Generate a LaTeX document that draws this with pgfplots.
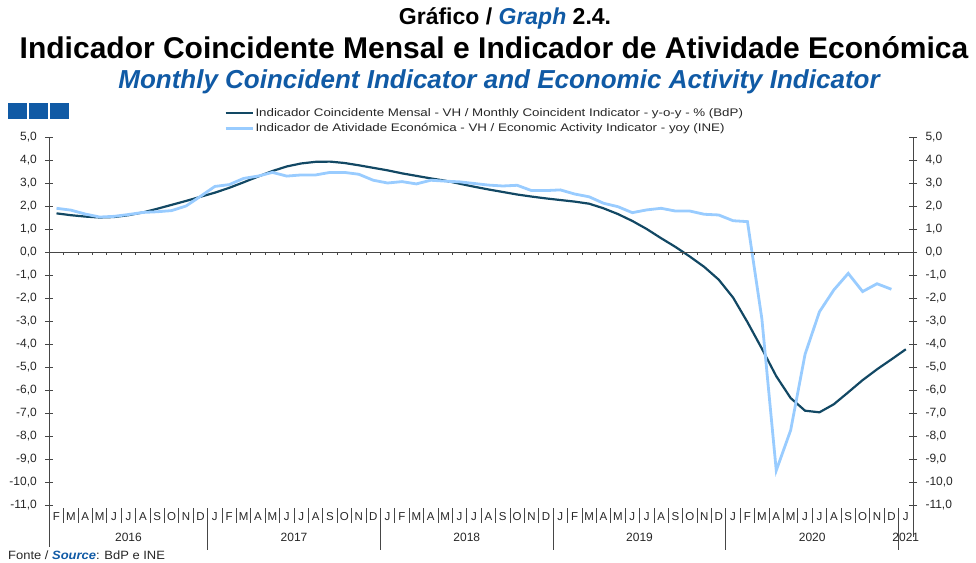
\documentclass[border=0pt]{standalone}
\usepackage{pgfplots}
\pgfplotsset{compat=1.18}
\usepackage{fontspec}
\setmainfont{Liberation Sans}
\definecolor{darkline}{RGB}{18,72,100}
\definecolor{lightline}{RGB}{153,204,255}
\definecolor{titleblue}{RGB}{16,90,165}
\definecolor{axisgray}{RGB}{70,70,70}
\begin{document}
\begin{tikzpicture}[x=1pt,y=1pt]
\path[use as bounding box] (0,0) rectangle (976,562);
% titles
\node[anchor=base, inner sep=0pt, font=\fontsize{23}{25}\selectfont\bfseries] at (505,537.5) {Gráfico / \textcolor{titleblue}{\itshape Graph} 2.4.};
\node[anchor=base, inner sep=0pt, font=\fontsize{30}{32}\selectfont\bfseries] at (494,503) {Indicador Coincidente Mensal e Indicador de Atividade Económica};
\node[anchor=base, inner sep=0pt, font=\fontsize{26}{28}\selectfont\bfseries\itshape, text=titleblue] at (499,473) {Monthly Coincident Indicator and Economic Activity Indicator};
% squares
\fill[titleblue] (7.5,443) rectangle (26.5,459);
\fill[titleblue] (28.5,443) rectangle (47.5,459);
\fill[titleblue] (49.5,443) rectangle (68.5,459);

\begin{axis}[
  at={(49.3pt,57pt)}, anchor=south west, scale only axis,
  width=863.7pt, height=368pt,
  xmin=-0.5, xmax=59.5, ymin=-11, ymax=5,
  axis x line=none, axis y line*=left,
  y axis line style={axisgray, line width=0.9pt},
  ytick={-11,-10,...,5},
  ytick align=center, major tick length=8pt,
  ytick style={axisgray, line width=0.9pt},
  yticklabel style={font=\fontsize{12}{14}\selectfont, text=black!85, xshift=-5pt,
    /pgf/number format/.cd, fixed, fixed zerofill, precision=1, use comma, assume math mode=true},
  clip=false,
  legend style={at={(axis description cs:0.2023,1.083)}, anchor=north west, draw=none, fill=none,
    font=\fontsize{11}{12}\selectfont, inner sep=0pt, row sep=3pt,
    nodes={inner sep=1.5pt, text=black!85}},
  legend cell align=left,
  legend image code/.code={\draw[#1] (0pt,0pt) -- (27pt,0pt);},
]
\addplot[darkline, line width=2.2pt] coordinates {
(0,1.68) (1,1.60) (2,1.54) (3,1.50) (4,1.52) (5,1.60) (6,1.72) (7,1.88) (8,2.05) (9,2.22)
(10,2.40) (11,2.58) (12,2.79) (13,3.03) (14,3.28) (15,3.52) (16,3.72) (17,3.85) (18,3.92) (19,3.93)
(20,3.87) (21,3.77) (22,3.66) (23,3.55) (24,3.42) (25,3.31) (26,3.20) (27,3.10) (28,2.97) (29,2.84)
(30,2.72) (31,2.61) (32,2.50) (33,2.41) (34,2.33) (35,2.26) (36,2.19) (37,2.10) (38,1.90) (39,1.65)
(40,1.35) (41,1.00) (42,0.60) (43,0.22) (44,-0.20) (45,-0.65) (46,-1.20) (47,-1.98) (48,-3.05) (49,-4.20)
(50,-5.40) (51,-6.35) (52,-6.90) (53,-6.97) (54,-6.62) (55,-6.10) (56,-5.57) (57,-5.10) (58,-4.67) (59,-4.23)
};
\addlegendentry{\scalebox{1.21}[1]{Indicador Coincidente Mensal - VH / Monthly Coincident Indicator - y-o-y - \% (BdP)}}
\addplot[lightline, line width=2.8pt] coordinates {
(0,1.90) (1,1.82) (2,1.65) (3,1.52) (4,1.55) (5,1.63) (6,1.72) (7,1.75) (8,1.80) (9,2.00)
(10,2.42) (11,2.85) (12,2.93) (13,3.20) (14,3.30) (15,3.46) (16,3.30) (17,3.35) (18,3.35) (19,3.46)
(20,3.46) (21,3.38) (22,3.12) (23,3.00) (24,3.06) (25,2.96) (26,3.12) (27,3.08) (28,3.05) (29,2.98)
(30,2.91) (31,2.87) (32,2.90) (33,2.67) (34,2.67) (35,2.70) (36,2.52) (37,2.40) (38,2.12) (39,1.97)
(40,1.71) (41,1.83) (42,1.90) (43,1.78) (44,1.78) (45,1.64) (46,1.61) (47,1.36) (48,1.32) (49,-2.90)
(50,-9.50) (51,-7.75) (52,-4.45) (53,-2.60) (54,-1.65) (55,-0.93) (56,-1.72) (57,-1.38) (58,-1.62)
};
\addlegendentry{\scalebox{1.21}[1]{Indicador de Atividade Económica - VH / Economic Activity Indicator - yoy (INE)}}
\end{axis}

\begin{axis}[
  at={(49.3pt,57pt)}, anchor=south west, scale only axis,
  width=863.7pt, height=368pt,
  xmin=-0.5, xmax=59.5, ymin=-11, ymax=5,
  axis x line=none, axis y line*=right,
  y axis line style={axisgray, line width=0.9pt},
  ytick={-11,-10,...,5},
  ytick align=center, major tick length=8pt,
  ytick style={axisgray, line width=0.9pt},
  yticklabel style={font=\fontsize{12}{14}\selectfont, text=black!85, xshift=5pt,
    /pgf/number format/.cd, fixed, fixed zerofill, precision=1, use comma, assume math mode=true},
]
\addplot[draw=none] coordinates {(0,0)};
\end{axis}

% zero line with ticks
\draw[axisgray, line width=0.9pt] (49.3,310) -- (913,310);
\foreach \k in {1,...,59} \draw[axisgray, line width=0.8pt] ({49.3+14.395*\k},310) -- ++(0,-3.5);
% bottom category separators
\foreach \k in {1,...,60} \draw[axisgray, line width=0.8pt] ({49.3+14.395*\k},54) -- ({49.3+14.395*\k},39);
\foreach \k in {11,23,35,47,59} \draw[axisgray, line width=0.9pt] ({49.3+14.395*\k},54) -- ({49.3+14.395*\k},12);
\draw[axisgray, line width=0.9pt] (49.3,57) -- (49.3,15);
\draw[axisgray, line width=0.9pt] (913,57) -- (913,25);
% month letters
\foreach \m [count=\i from 0] in {F,M,A,M,J,J,A,S,O,N,D,J,F,M,A,M,J,J,A,S,O,N,D,J,F,M,A,M,J,J,A,S,O,N,D,J,F,M,A,M,J,J,A,S,O,N,D,J,F,M,A,M,J,J,A,S,O,N,D,J}
  \node[anchor=base, inner sep=0pt, font=\fontsize{11.5}{12}\selectfont, text=black!85] at ({49.3+14.395*(\i+0.5)},42) {\m};
% years
\foreach \x/\y in {128.5/2016, 294/2017, 466.8/2018, 639.5/2019, 812.2/2020, 905.8/2021}
  \node[anchor=base, inner sep=0pt, font=\fontsize{12}{13}\selectfont, text=black!85] at (\x,21) {\y};
% source
\node[anchor=base west, inner sep=0pt, font=\fontsize{12}{13}\selectfont, text=black!85] at (8,2.5) {\scalebox{1.08}[1]{Fonte / \textcolor{titleblue}{\bfseries\itshape Source}: BdP e INE}};
\end{tikzpicture}
\end{document}
